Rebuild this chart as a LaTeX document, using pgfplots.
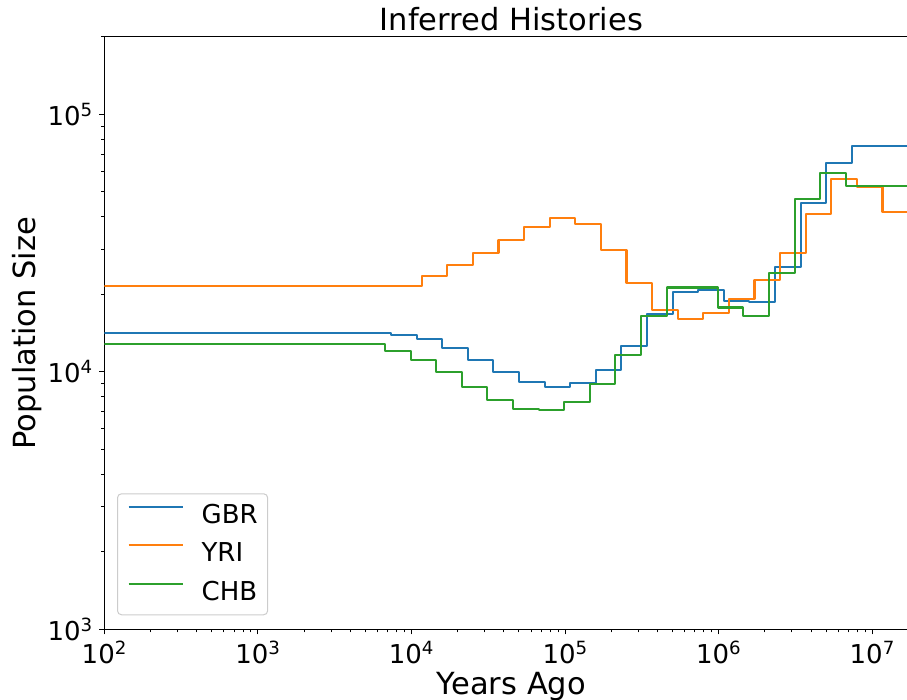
\documentclass[border=0pt]{standalone}
\usepackage{fontspec}
\setmainfont{DejaVu Sans}
\usepackage{pgfplots}
\pgfplotsset{compat=1.18}

\definecolor{c0}{HTML}{1F77B4}
\definecolor{c1}{HTML}{FF7F0E}
\definecolor{c2}{HTML}{2CA02C}

\newcommand{\tickfont}{\fontsize{26}{31}\selectfont}
\newcommand{\labelfont}{\fontsize{30.5}{36}\selectfont}

\begin{document}
\begin{tikzpicture}[x=1pt,y=1pt]
\useasboundingbox (0,0) rectangle (907,700);
\clip (0,0) rectangle (907,700);
\begin{axis}[
  at={(104.3pt,70.7pt)}, anchor=south west,
  scale only axis, width=814.2pt, height=592.3pt,
  xmode=log, ymode=log,
  xmin=100, xmax=2e7, ymin=1e3, ymax=2e5,
  axis line style={line width=1pt, black},
  tick align=outside,
  xtick pos=bottom, ytick pos=left,
  major tick length=5pt, minor tick length=3pt,
  every tick/.style={black, line width=1pt},
  xtick={1e2,1e3,1e4,1e5,1e6,1e7},
  xticklabels={10\textsuperscript{2},10\textsuperscript{3},10\textsuperscript{4},10\textsuperscript{5},10\textsuperscript{6},10\textsuperscript{7}},
  minor xtick={200,300,400,500,600,700,800,900,
    2000,3000,4000,5000,6000,7000,8000,9000,
    20000,30000,40000,50000,60000,70000,80000,90000,
    200000,300000,400000,500000,600000,700000,800000,900000,
    2e6,3e6,4e6,5e6,6e6,7e6,8e6,9e6,2e7},
  ytick={1e3,1e4,1e5},
  yticklabels={10\textsuperscript{3},10\textsuperscript{4},10\textsuperscript{5}},
  minor ytick={2000,3000,4000,5000,6000,7000,8000,9000,
    20000,30000,40000,50000,60000,70000,80000,90000,200000},
  ticklabel style={font=\tickfont},
  xticklabel style={anchor=north, yshift=-3pt},
  yticklabel style={anchor=east, xshift=-3pt},
  title={Inferred Histories},
  title style={font=\labelfont, at={(axis description cs:0.5,1)}, anchor=base, yshift=0pt},
  xlabel={Years Ago},
  xlabel style={font=\labelfont, at={(axis description cs:0.5,0)}, anchor=base, yshift=-65pt},
  ylabel={Population Size},
  ylabel style={font=\labelfont, at={([xshift=-69pt]axis description cs:0,0.5)}, anchor=base, rotate=0},
  legend cell align=left,
  legend image code/.code={\draw[#1, line width=2.1pt] (0pt,9pt) -- (54pt,9pt);},
  legend style={at={(axis description cs:0,0)}, anchor=south west,
    xshift=12.7pt, yshift=14pt,
    draw=black!20, line width=1pt, rounded corners=4pt,
    fill=white, fill opacity=0.8, text opacity=1,
    font=\tickfont, inner xsep=10pt, inner ysep=11.5pt, row sep=17.5pt,
    nodes={inner sep=0pt, text height=18pt, text depth=3pt},
    /tikz/every odd column/.append style={column sep=18pt}},
]

% GBR
\addplot[c0, line width=2.1pt, const plot, line join=round] coordinates {
  (100,14190) (7356,13940) (10795,13370) (15845,12340) (23257,11110)
  (34137,9956) (50107,9105) (73545,8754) (107950,9024) (158450,10160)
  (232570,12600) (341370,16720) (501070,20470) (735450,20780)
  (1.0795e6,18840) (1.5845e6,18620) (2.3257e6,25600) (3.4137e6,45380)
  (5.0107e6,64860) (7.3545e6,75510) (2e7,75510)
};
\addlegendentry{GBR}

% YRI
\addplot[c1, line width=2.1pt, const plot, line join=round] coordinates {
  (100,21600) (11650,23620) (17110,26050) (25100,28920) (36850,32580)
  (54090,36670) (79380,39540) (116500,37470) (171100,29790) (251000,22130)
  (368500,17430) (540900,16090) (793800,16930) (1.165e6,19180)
  (1.711e6,22730) (2.510e6,29070) (3.685e6,41190) (5.409e6,56300)
  (7.938e6,52430) (1.165e7,41820) (2e7,41820)
};
\addlegendentry{YRI}

% CHB
\addplot[c2, line width=2.1pt, const plot, line join=round] coordinates {
  (100,12860) (6722,12080) (9867,11120) (14480,9954) (21260,8708)
  (31210,7780) (45800,7180) (67220,7115) (98670,7613) (144800,8977)
  (212600,11650) (312100,16520) (458000,21270) (672200,21270)
  (986700,17790) (1.448e6,16520) (2.126e6,24190) (3.121e6,46850)
  (4.580e6,59410) (6.722e6,52760) (2e7,52760)
};
\addlegendentry{CHB}

\end{axis}
\end{tikzpicture}
\end{document}
